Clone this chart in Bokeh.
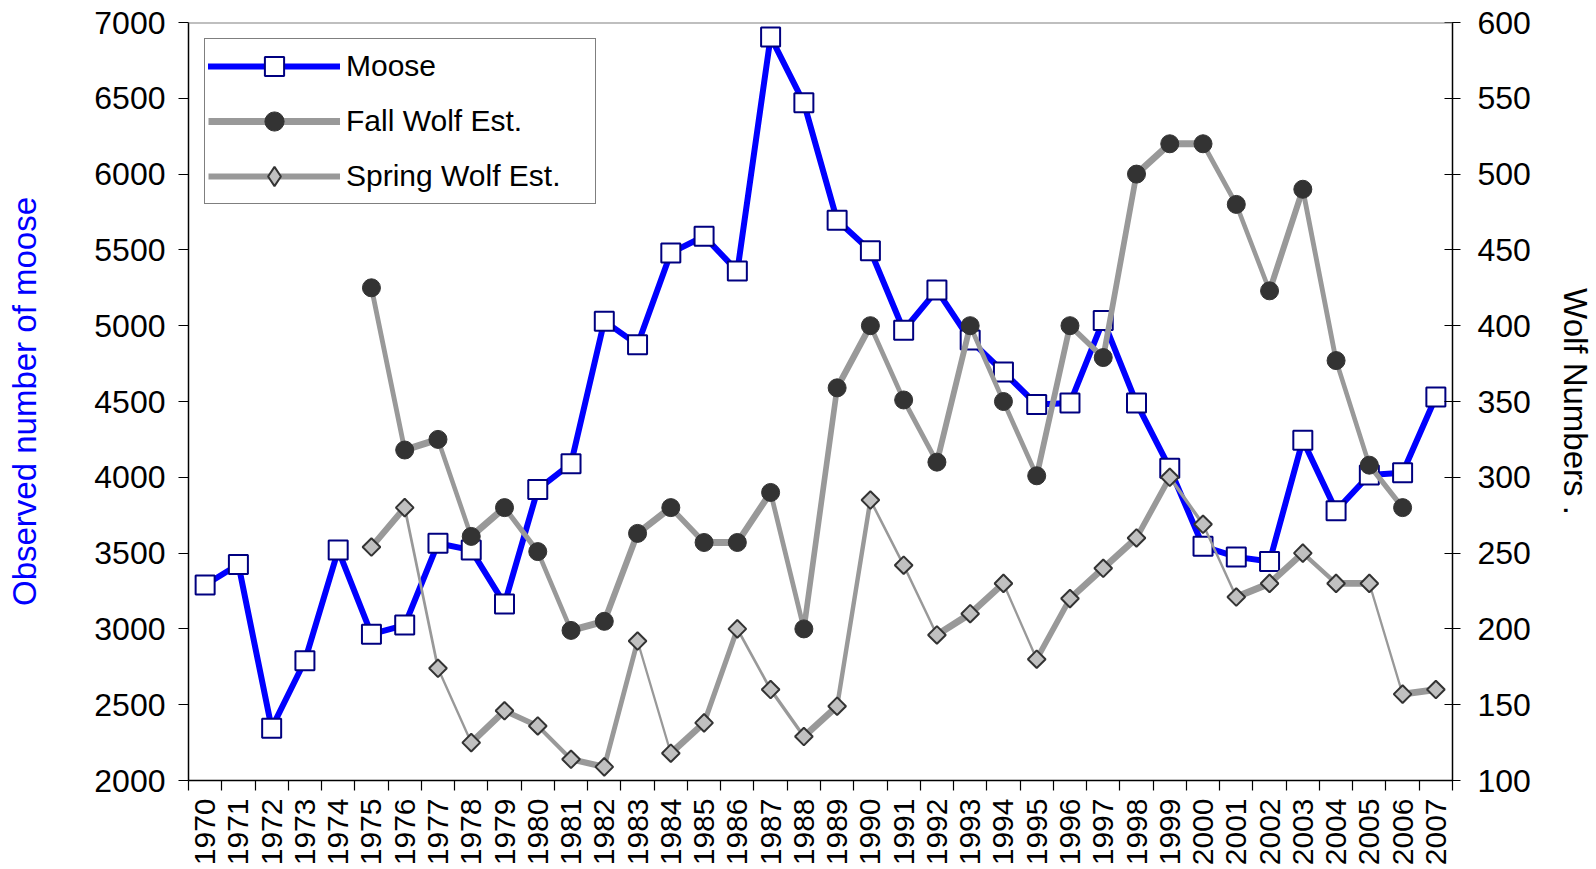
import numpy as np
from bokeh.plotting import figure
from bokeh.models import (Range1d, LinearAxis, FixedTicker, ColumnDataSource,
                          Legend, LegendItem, Span)
from bokeh.embed import file_html
from bokeh.resources import INLINE

# ---------------- data ----------------
years = list(range(1970, 2008))
moose = [3290, 3425, 2345, 2790, 3520, 2965, 3025, 3565, 3520, 3165,
         3920, 4090, 5030, 4875, 5480, 5590, 5360, 6905, 6470, 5695,
         5495, 4970, 5235, 4905, 4695, 4480, 4490, 5035, 4490, 4060,
         3545, 3475, 3445, 4245, 3780, 4015, 4030, 4530]

fall_years = list(range(1975, 2007))
fall_wolf = [425, 318, 325, 261, 280, 251, 199, 205, 263, 280,
             257, 257, 290, 200, 359, 400, 351, 310, 400, 350,
             301, 400, 379, 500, 520, 520, 480, 423, 490, 377,
             308, 280]

spring_years = list(range(1975, 2008))
spring_wolf = [254, 280, 174, 125, 146, 136, 114, 109, 192, 118,
               138, 200, 160, 129, 149, 285, 242, 196, 210, 230,
               180, 220, 240, 260, 300, 269, 221, 230, 250, 230,
               230, 157, 160]

left_ticks = list(range(2000, 7001, 500))
right_ticks = list(range(100, 601, 50))
year_bounds = [y - 0.5 for y in years] + [years[-1] + 0.5]

FONT = "Liberation Sans"
W, H = 1596, 869
BL, BR, BT, BB = 188, 143, 22, 89
FRAME_W = W - BL - BR
FRAME_H = H - BT - BB

p = figure(width=W, height=H, output_backend="svg", toolbar_location=None,
           x_range=Range1d(1969.5, 2007.5), y_range=Range1d(2000, 7000),
           min_border_left=BL, min_border_right=BR,
           min_border_top=BT, min_border_bottom=BB)
p.extra_y_ranges = {"wolf": Range1d(100, 600)}
p.xgrid.visible = False
p.ygrid.visible = False
p.outline_line_color = None
p.background_fill_color = "white"
p.border_fill_color = "white"

# ---- bottom axis ----
xa = p.xaxis[0]
xa.ticker = FixedTicker(ticks=years, minor_ticks=year_bounds)
xa.major_tick_out = 0
xa.major_tick_in = 0
xa.minor_tick_out = 10
xa.minor_tick_in = 0
xa.minor_tick_line_color = "black"
xa.minor_tick_line_width = 1.2
xa.major_label_orientation = np.pi / 2
xa.major_label_standoff = 8
xa.major_label_text_font = FONT
xa.major_label_text_font_size = "30px"
xa.major_label_text_color = "black"
xa.axis_line_color = "black"
xa.axis_line_width = 1.5

# ---- left axis ----
ya = p.yaxis[0]
ya.ticker = FixedTicker(ticks=left_ticks)
ya.major_tick_out = 10
ya.major_tick_in = 0
ya.minor_tick_line_color = None
ya.major_tick_line_color = "black"
ya.major_tick_line_width = 1.2
ya.major_label_standoff = 13
ya.major_label_text_font = FONT
ya.major_label_text_font_size = "32px"
ya.major_label_text_color = "black"
ya.axis_line_color = "black"
ya.axis_line_width = 1.5
ya.axis_label = "Observed number of moose"
ya.axis_label_text_font = FONT
ya.axis_label_text_font_size = "33px"
ya.axis_label_text_font_style = "normal"
ya.axis_label_text_color = "#0000FF"
ya.axis_label_standoff = 48

# ---- right axis ----
ra = LinearAxis(y_range_name="wolf", ticker=FixedTicker(ticks=right_ticks))
ra.major_tick_out = 8
ra.major_tick_in = 8
ra.minor_tick_line_color = None
ra.major_tick_line_color = "black"
ra.major_tick_line_width = 1.2
ra.major_label_standoff = 17
ra.major_label_text_font = FONT
ra.major_label_text_font_size = "32px"
ra.major_label_text_color = "black"
ra.axis_line_color = "black"
ra.axis_line_width = 1.5
ra.axis_label = "Wolf Numbers ."
ra.axis_label_text_font = FONT
ra.axis_label_text_font_size = "33px"
ra.axis_label_text_font_style = "normal"
ra.axis_label_text_color = "black"
ra.axis_label_standoff = 23
p.add_layout(ra, "right")

# top border line
p.add_layout(Span(location=7000, dimension="width", line_color="#808080",
                  line_width=2))

# ---------------- series ----------------
BLUE = "#0000FF"
NAVY = "#000080"
GRAY = "#999999"
DARK = "#333333"
LIGHT = "#C0C0C0"
NAN = float("nan")

moose_line = p.line(years, moose, line_color=BLUE, line_width=6,
                    line_join="round", line_cap="round")
moose_pts = p.scatter(years, moose, marker="square", size=19,
                      fill_color="white", line_color=NAVY, line_width=2)

sx = FRAME_W / (2007.5 - 1969.5)
sy = FRAME_H / (600 - 100)
PHI = np.deg2rad(-70)


def nib_segments(xs, vs, base, extra):
    xs = np.asarray(xs, float)
    vs = np.asarray(vs, float)
    x0, x1, y0, y1 = xs[:-1], xs[1:], vs[:-1], vs[1:]
    t = np.arctan2((y1 - y0) * sy, (x1 - x0) * sx)
    w = base + extra * np.abs(np.sin(t - PHI))
    return ColumnDataSource(dict(x0=x0, x1=x1, y0=y0, y1=y1, w=w))


fall_src = nib_segments(fall_years, fall_wolf, 4.5, 2.5)
p.segment("x0", "y0", "x1", "y1", source=fall_src, line_color=GRAY,
          line_width="w", line_cap="round", y_range_name="wolf")
fall_pts = p.scatter(fall_years, fall_wolf, marker="circle", size=18,
                     fill_color=DARK, line_color=DARK, line_width=1,
                     y_range_name="wolf")

spring_src = nib_segments(spring_years, spring_wolf, 2.0, 5.0)
p.segment("x0", "y0", "x1", "y1", source=spring_src, line_color=GRAY,
          line_width="w", line_cap="round", y_range_name="wolf")
spring_pts = p.scatter(spring_years, spring_wolf, marker="square",
                       angle=np.pi / 4, size=12.5, fill_color=LIGHT,
                       line_color=DARK, line_width=2, y_range_name="wolf")

# legend proxies (style only; NaN data so nothing is drawn in the plot)
fall_proxy = p.line(x=[NAN, NAN], y=[NAN, NAN], line_color=GRAY,
                    line_width=7, line_cap="butt")
spring_proxy = p.line(x=[NAN, NAN], y=[NAN, NAN], line_color=GRAY,
                      line_width=6, line_cap="butt")
spring_mark = p.scatter(x=[NAN], y=[NAN], marker="diamond", size=20,
                        fill_color=LIGHT, line_color=DARK, line_width=2)

legend = Legend(items=[
    LegendItem(label="Moose", renderers=[moose_line, moose_pts]),
    LegendItem(label="Fall Wolf Est.", renderers=[fall_proxy, fall_pts]),
    LegendItem(label="Spring Wolf Est.", renderers=[spring_proxy, spring_mark]),
], location="top_left")
legend.margin = 16
legend.padding = 3
legend.spacing = 7
legend.glyph_width = 132
legend.glyph_height = 48
legend.label_height = 48
legend.label_width = 246
legend.label_standoff = 6
legend.label_text_font = FONT
legend.label_text_font_size = "30px"
legend.label_text_color = "black"
legend.border_line_color = "black"
legend.border_line_width = 1
legend.background_fill_color = "white"
legend.background_fill_alpha = 1
p.add_layout(legend)

open("out.html", "w").write(file_html(p, INLINE))
